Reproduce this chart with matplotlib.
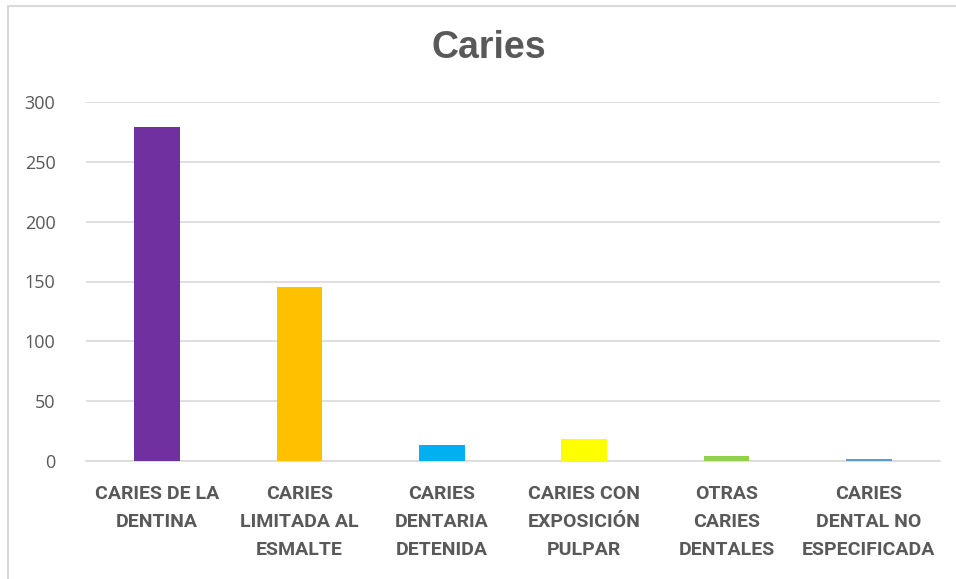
import matplotlib
matplotlib.use("Agg")
import matplotlib.pyplot as plt
from matplotlib.patches import Rectangle

categorias = ["CARIES DE LA\nDENTINA", "CARIES\nLIMITADA AL\nESMALTE", "CARIES\nDENTARIA\nDETENIDA",
              "CARIES CON\nEXPOSICIÓN\nPULPAR", "OTRAS\nCARIES\nDENTALES", "CARIES\nDENTAL NO\nESPECIFICADA"]
valores = [279, 145, 13, 18, 4, 2]
colores = ["#7030A0", "#FFC000", "#00B0F0", "#FFFF00", "#92D050", "#5B9BD5"]

plt.rcParams['font.family'] = ['Open Sans', 'DejaVu Sans']
gris = "#595959"

fig = plt.figure(figsize=(9.56, 5.79), dpi=100)
ax = fig.add_axes([86/956, 118/579, (940-86)/956, (461-102)/579])

x = range(len(categorias))
ax.bar(x, valores, width=0.32, color=colores, zorder=3)
ax.set_xlim(-0.5, len(categorias) - 0.5)
ax.set_ylim(0, 300)
ax.set_yticks(range(0, 301, 50))
ax.set_xticks(list(x))
ax.set_xticklabels(categorias, fontweight="bold", fontsize=14, color=gris, linespacing=1.72,
                   family="Roboto")
ax.tick_params(axis="y", labelsize=13, labelcolor=gris, length=0, pad=22)
ax.tick_params(axis="x", length=0, pad=17)
ax.grid(axis="y", color="#D9D9D9", linewidth=1.2, zorder=0)
for s in ["top", "right", "left"]:
    ax.spines[s].set_visible(False)
ax.spines["bottom"].set_color("#D9D9D9")
ax.spines["bottom"].set_linewidth(1.2)

fig.text(489/956, 1 - 48/579, "Caries", ha="center", va="center", fontsize=27,
         fontweight="bold", color=gris, family="Liberation Sans")

# borde del gráfico
fig.patches.append(Rectangle((8/956, -0.1), 1.2, 1.1 - 6/579, transform=fig.transFigure,
                             fill=False, edgecolor="#D9D9D9", linewidth=1.5))

fig.savefig("out.png", dpi=100)
